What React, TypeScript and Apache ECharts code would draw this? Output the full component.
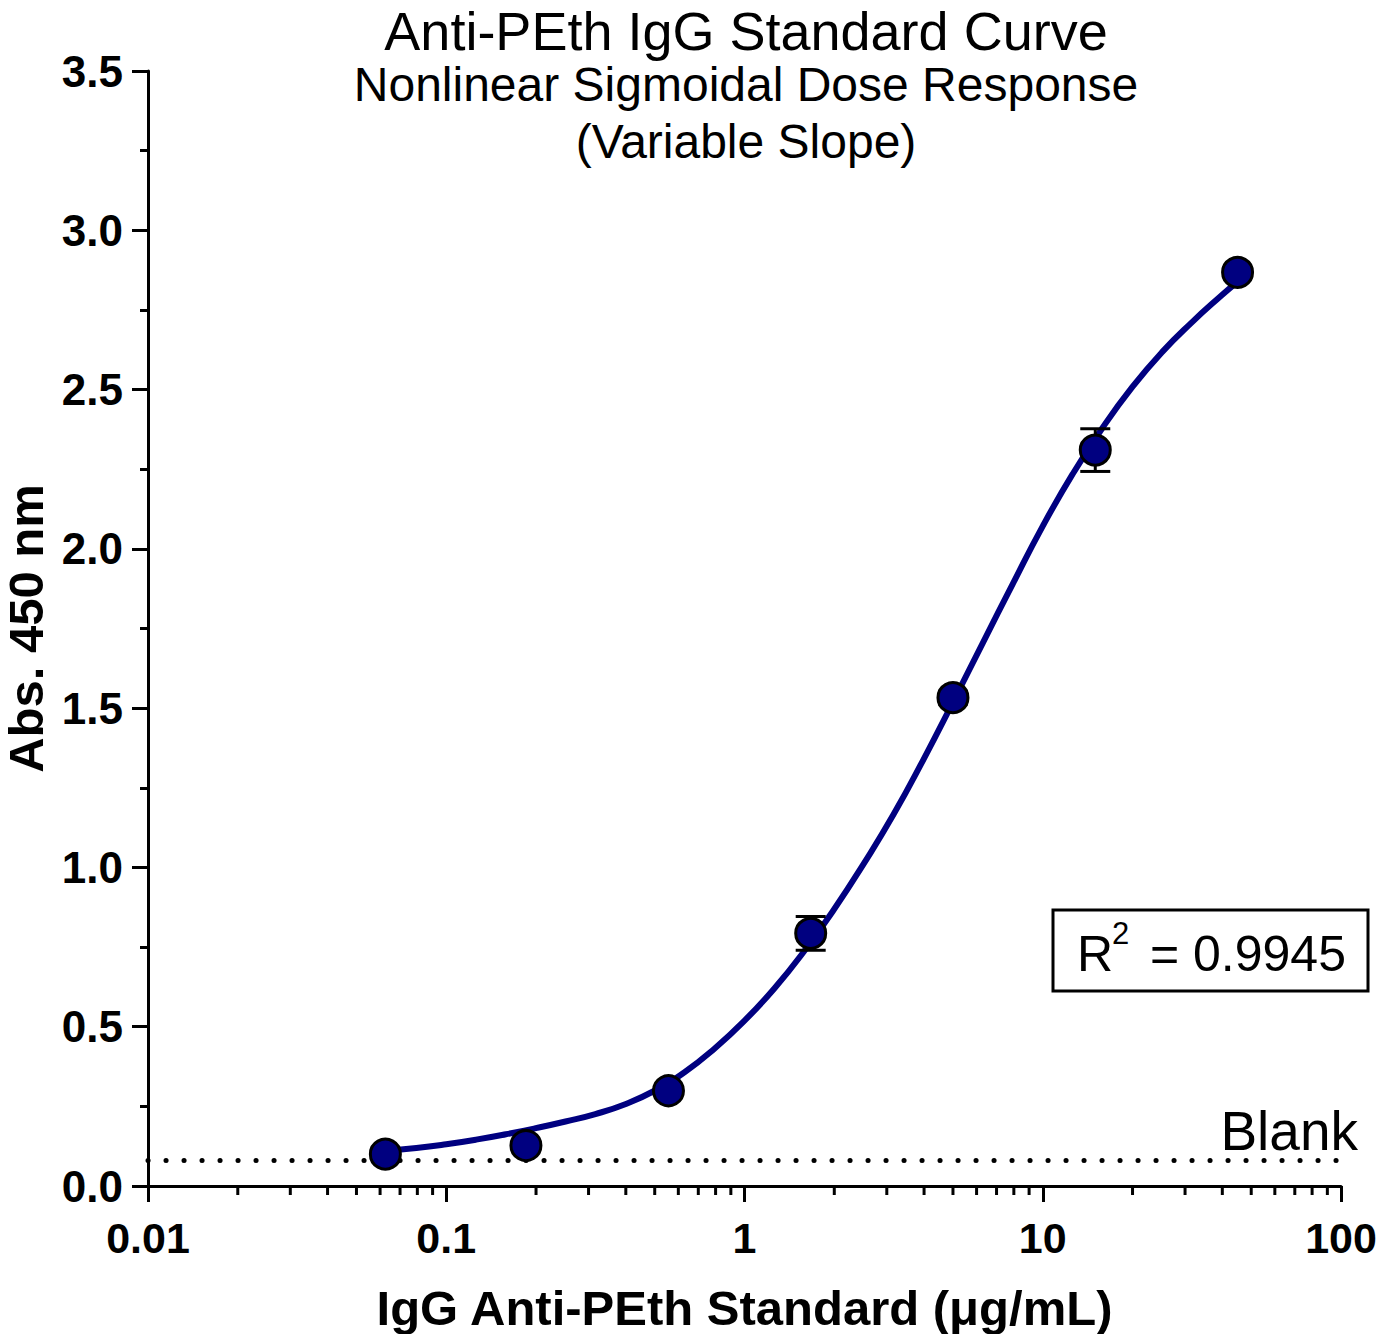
import React, { useEffect, useRef } from 'react';
import * as echarts from 'echarts';

const FONT = '"Liberation Sans", Arial, Helvetica, sans-serif';

// Standards (µg/mL) and mean absorbance with error
const concentrations = [0.0625, 0.185, 0.556, 1.667, 5, 15, 45];
const absMean = [0.1, 0.127, 0.299, 0.793, 1.533, 2.31, 2.868];
const absErr = [0.008, 0.01, 0.01, 0.053, 0.02, 0.067, 0.015];

// Fitted sigmoidal curve
const curveX = [0.0625, 0.0794, 0.1, 0.1259, 0.1585, 0.1995, 0.2512, 0.3162, 0.3981, 0.5012, 0.631, 0.7943, 1, 1.259, 1.585, 1.995, 2.512, 3.162, 3.981, 5.012, 6.31, 7.943, 10, 12.59, 15.85, 19.95, 25.12, 31.62, 39.81, 45];
const curveY = [0.11, 0.119, 0.131, 0.1455, 0.1625, 0.1815, 0.2025, 0.2258, 0.2568, 0.2998, 0.3578, 0.4318, 0.519, 0.62, 0.737, 0.868, 1.012, 1.1667, 1.3387, 1.5207, 1.7067, 1.8907, 2.0715, 2.2345, 2.3795, 2.5075, 2.6175, 2.711, 2.796, 2.839];

// Blank level (dotted line)
const blankX = [0.01, 100];
const blankLevel = 0.08;

// Tick labels
const xTickLabels = ['0.01', '0.1', '1', '10', '100'];
const yTickLabels = ['0.0', '0.5', '1.0', '1.5', '2.0', '2.5', '3.0', '3.5'];
const xMinorTicks = [
  0.02, 0.03, 0.04, 0.05, 0.06, 0.07, 0.08, 0.09,
  0.2, 0.3, 0.4, 0.5, 0.6, 0.7, 0.8, 0.9,
  2, 3, 4, 5, 6, 7, 8, 9,
  20, 30, 40, 50, 60, 70, 80, 90,
];

const titleText = 'Anti-PEth IgG Standard Curve';
const subtitleLines = ['Nonlinear Sigmoidal Dose Response', '(Variable Slope)'];
const xName = 'IgG Anti-PEth Standard (μg/mL)';
const yName = 'Abs. 450 nm';
const r2Value = '= 0.9945';

export default function App() {
  const ref = useRef<HTMLDivElement>(null);

  useEffect(() => {
    const chart = echarts.init(ref.current as HTMLDivElement, null, { renderer: 'svg' });
    const navy = '#000080';
    const option: any = {
      animation: false,
      backgroundColor: '#fff',
      grid: { left: 148, right: 36, top: 71, bottom: 148, containLabel: false, outerBoundsMode: 'none' },
      xAxis: {
        type: 'log',
        logBase: 10,
        min: 0.01,
        max: 100,
        axisLine: { onZero: false, lineStyle: { color: '#000', width: 3 } },
        axisTick: { show: true, length: 16, lineStyle: { color: '#000', width: 3 } },
        axisLabel: {
          margin: 30,
          fontSize: 43,
          fontWeight: 'bold',
          color: '#000',
          fontFamily: FONT,
          formatter: (v: number) => xTickLabels[Math.round(Math.log10(v)) + 2],
        },
        splitLine: { show: false },
        minorSplitLine: { show: false },
        name: xName,
        nameLocation: 'middle',
        nameGap: 97,
        nameTextStyle: { fontSize: 49, fontWeight: 'bold', color: '#000', fontFamily: FONT },
      },
      yAxis: {
        type: 'value',
        min: 0,
        max: 3.5,
        interval: 0.5,
        axisLine: { show: true, onZero: false, lineStyle: { color: '#000', width: 3 } },
        axisTick: { show: true, length: 16, lineStyle: { color: '#000', width: 3 } },
        minorTick: { show: true, splitNumber: 2, length: 8, lineStyle: { color: '#000', width: 3 } },
        axisLabel: {
          margin: 25,
          fontSize: 44,
          fontWeight: 'bold',
          color: '#000',
          fontFamily: FONT,
          formatter: (v: number) => yTickLabels[Math.round(v / 0.5)],
        },
        splitLine: { show: false },
        minorSplitLine: { show: false },
        name: yName,
        nameLocation: 'middle',
        nameGap: 98,
        nameTextStyle: { fontSize: 49, fontWeight: 'bold', color: '#000', fontFamily: FONT },
      },
      series: [
        {
          type: 'line',
          name: 'blank',
          data: blankX.map((x) => [x, blankLevel]),
          showSymbol: false,
          symbol: 'none',
          silent: true,
          lineStyle: { color: '#000', width: 5, type: [0.1, 17.9], cap: 'round' },
          z: 1,
        },
        {
          type: 'custom',
          name: 'minorTicks',
          data: xMinorTicks.map((v) => [v, 0]),
          clip: false,
          silent: true,
          renderItem: (params: any, api: any) => {
            const p = api.coord([api.value(0), 0]);
            return {
              type: 'line',
              shape: { x1: p[0], y1: p[1], x2: p[0], y2: p[1] + 9 },
              style: { stroke: '#000', lineWidth: 3 },
            };
          },
          z: 3,
        },
        {
          type: 'line',
          name: 'fit',
          data: curveX.map((x, i) => [x, curveY[i]]),
          smooth: true,
          showSymbol: false,
          symbol: 'none',
          lineStyle: { color: navy, width: 6 },
          z: 2,
        },
        {
          type: 'custom',
          name: 'errors',
          data: concentrations.map((x, i) => [x, absMean[i], absErr[i]]),
          clip: false,
          silent: true,
          renderItem: (params: any, api: any) => {
            const x = api.value(0);
            const m = api.value(1);
            const e = api.value(2);
            const hi = api.coord([x, m + e]);
            const lo = api.coord([x, m - e]);
            const hw = 15;
            const st = { stroke: '#000', lineWidth: 3 };
            return {
              type: 'group',
              children: [
                { type: 'line', shape: { x1: hi[0], y1: hi[1], x2: lo[0], y2: lo[1] }, style: st },
                { type: 'line', shape: { x1: hi[0] - hw, y1: hi[1], x2: hi[0] + hw, y2: hi[1] }, style: st },
                { type: 'line', shape: { x1: lo[0] - hw, y1: lo[1], x2: lo[0] + hw, y2: lo[1] }, style: st },
              ],
            };
          },
          z: 3,
        },
        {
          type: 'scatter',
          name: 'standards',
          data: concentrations.map((x, i) => [x, absMean[i]]),
          symbol: 'circle',
          symbolSize: 30,
          itemStyle: { color: navy, borderColor: '#000', borderWidth: 3, opacity: 1 },
          z: 4,
        },
      ],
      graphic: [
        {
          type: 'text', x: 746, y: 30.5,
          style: { text: titleText, fontSize: 54, fontFamily: FONT, fill: '#000', align: 'center', verticalAlign: 'middle' },
        },
        {
          type: 'text', x: 746, y: 84,
          style: { text: subtitleLines[0], fontSize: 48, fontFamily: FONT, fill: '#000', align: 'center', verticalAlign: 'middle' },
        },
        {
          type: 'text', x: 746, y: 141,
          style: { text: subtitleLines[1], fontSize: 48, fontFamily: FONT, fill: '#000', align: 'center', verticalAlign: 'middle' },
        },
        {
          type: 'text', x: 1358, y: 1131,
          style: { text: 'Blank', fontSize: 55, fontFamily: FONT, fill: '#000', align: 'right', verticalAlign: 'middle' },
        },
        {
          type: 'rect',
          shape: { x: 1053, y: 910, width: 315, height: 81 },
          style: { fill: '#fff', stroke: '#000', lineWidth: 3 },
        },
        {
          type: 'text', x: 1077, y: 954,
          style: { text: 'R', fontSize: 50, fontFamily: FONT, fill: '#000', align: 'left', verticalAlign: 'middle' },
        },
        {
          type: 'text', x: 1112, y: 933,
          style: { text: '2', fontSize: 31, fontFamily: FONT, fill: '#000', align: 'left', verticalAlign: 'middle' },
        },
        {
          type: 'text', x: 1346, y: 954,
          style: { text: r2Value, fontSize: 50, fontFamily: FONT, fill: '#000', align: 'right', verticalAlign: 'middle' },
        },
      ],
    };
    chart.setOption(option);
    return () => chart.dispose();
  }, []);

  return (
    <div
      ref={ref}
      style={{ position: 'fixed', left: 0, top: 0, width: 1377, height: 1334, background: '#fff' }}
    />
  );
}
